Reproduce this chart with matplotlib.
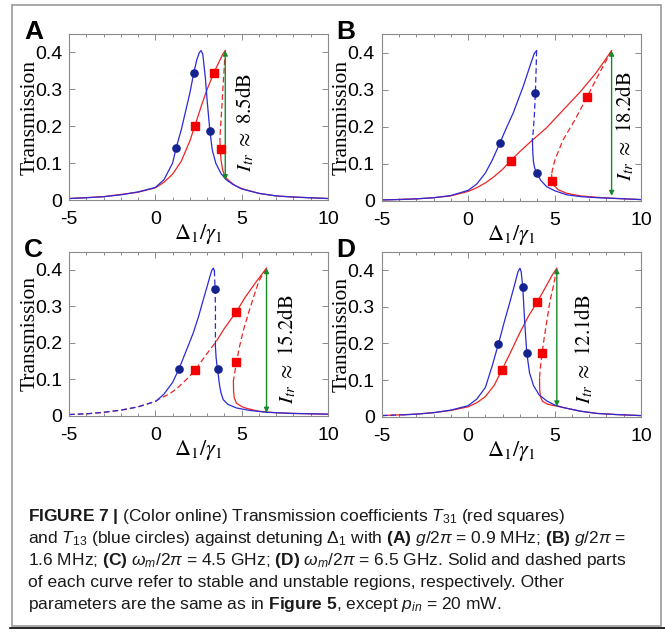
import matplotlib.pyplot as plt
from matplotlib import font_manager
from matplotlib.font_manager import FontProperties
from matplotlib.patches import Rectangle
from matplotlib.lines import Line2D
from matplotlib.ticker import MultipleLocator


def pick(fams):
    for f in fams:
        try:
            font_manager.findfont(FontProperties(family=f), fallback_to_default=False)
            return f
        except ValueError:
            pass
    return 'DejaVu Sans'


CAP_FONT = pick(['Liberation Sans Narrow', 'Liberation Sans'])
plt.rcParams['font.family'] = 'Liberation Sans'
plt.rcParams['axes.unicode_minus'] = False
plt.rcParams['mathtext.fontset'] = 'custom'
plt.rcParams['mathtext.rm'] = CAP_FONT
plt.rcParams['mathtext.it'] = CAP_FONT + ':italic'
plt.rcParams['mathtext.bf'] = CAP_FONT + ':bold'

# ---- (A) g/2pi = 0.9 MHz ----
A_BLUE = [(-5, 0.004), (-4, 0.006), (-3, 0.009), (-2, 0.014), (-1, 0.022), (0, 0.034),
          (0.5, 0.055), (1.0, 0.10), (1.21, 0.142), (1.5, 0.19), (1.8, 0.25), (2.0, 0.29),
          (2.22, 0.343), (2.4, 0.38), (2.55, 0.400), (2.65, 0.405), (2.75, 0.395),
          (2.9, 0.33), (3.0, 0.27), (3.16, 0.187), (3.3, 0.135), (3.5, 0.10), (3.8, 0.072),
          (4.1, 0.055), (4.5, 0.042), (5, 0.030), (6, 0.018), (7, 0.011), (8, 0.008),
          (9, 0.006), (10, 0.004)]
A_RED_UP = [(-5, 0.004), (-3, 0.009), (-1, 0.021), (0, 0.033), (0.5, 0.048), (1.0, 0.07),
            (1.5, 0.105), (2.0, 0.16), (2.29, 0.201), (2.7, 0.26), (3.0, 0.30), (3.39, 0.345),
            (3.7, 0.375), (3.9, 0.395), (4.05, 0.405)]
A_RED_MID = [(4.05, 0.405), (3.95, 0.33), (3.85, 0.25), (3.78, 0.20), (3.74, 0.165)]
A_RED_LOW = [(3.74, 0.165), (3.76, 0.138), (3.8, 0.11), (3.9, 0.081), (4.05, 0.062),
             (4.32, 0.05), (4.6, 0.04), (5, 0.031), (6, 0.018), (7, 0.011), (8, 0.008),
             (9, 0.006), (10, 0.004)]
A_CIRCLES = [(1.21, 0.142), (2.22, 0.343), (3.16, 0.187)]
A_SQUARES = [(2.29, 0.201), (3.39, 0.345), (3.78, 0.138)]
A_ARROW = (4.05, 0.054, 0.405)
A_LABEL = (5.19, 0.211, '8.5')

# ---- (B) g/2pi = 1.6 MHz ----
B_BLUE_UP = [(-5, 0.002), (-4, 0.003), (-3, 0.005), (-2, 0.008), (-1, 0.014), (0, 0.028),
             (0.5, 0.045), (1.0, 0.075), (1.4, 0.11), (1.84, 0.156), (2.2, 0.195),
             (2.61, 0.237), (3.19, 0.309), (3.58, 0.364), (3.83, 0.398), (3.96, 0.405)]
B_BLUE_MID = [(3.96, 0.405), (3.93, 0.35), (3.89, 0.292), (3.83, 0.23), (3.77, 0.19),
              (3.72, 0.165)]
B_BLUE_LOW = [(3.72, 0.165), (3.74, 0.13), (3.78, 0.105), (3.85, 0.088), (3.96, 0.076),
              (4.2, 0.055), (4.54, 0.038), (5.0, 0.027), (5.7, 0.016), (6.5, 0.011),
              (7.5, 0.008), (8.4, 0.0065), (10, 0.003)]
B_RED_UP = [(-5, 0.002), (-3, 0.005), (-2, 0.008), (-1, 0.013), (0, 0.025), (0.5, 0.035),
            (1.0, 0.048), (1.5, 0.065), (2.0, 0.085), (2.46, 0.108), (3.0, 0.133),
            (3.68, 0.162), (4.54, 0.197), (5.5, 0.245), (6.47, 0.293), (7.4, 0.345),
            (8.30, 0.405)]
B_RED_MID = [(8.30, 0.405), (7.6, 0.345), (6.89, 0.281), (6.2, 0.22), (5.5, 0.165),
             (5.02, 0.11), (4.88, 0.085), (4.83, 0.07)]
B_RED_LOW = [(4.83, 0.07), (4.86, 0.054), (4.95, 0.042), (5.2, 0.03), (5.7, 0.02),
             (6.5, 0.013), (7.5, 0.009), (8.3, 0.0065), (10, 0.003)]
B_CIRCLES = [(1.84, 0.156), (3.89, 0.292), (3.96, 0.076)]
B_SQUARES = [(2.46, 0.108), (6.89, 0.281), (4.87, 0.054)]
B_ARROW = (8.30, 0.013, 0.405)
B_LABEL = (9.07, 0.20, '18.2')

# ---- (C) omega_m/2pi = 4.5 GHz ----
C_BLUE_TAIL = [(-5, 0.004), (-4, 0.006), (-3, 0.010), (-2, 0.016), (-1, 0.025), (0, 0.040),
               (0.1, 0.043)]
C_BLUE_UP = [(0.1, 0.043), (0.5, 0.06), (1.0, 0.092), (1.37, 0.129), (1.8, 0.18),
             (2.2, 0.228), (2.5, 0.272), (2.78, 0.319), (3.0, 0.355), (3.16, 0.382),
             (3.28, 0.400), (3.36, 0.405), (3.42, 0.398)]
C_BLUE_MID = [(3.42, 0.398), (3.46, 0.35), (3.48, 0.3), (3.48, 0.25), (3.48, 0.19)]
C_BLUE_LOW = [(3.48, 0.19), (3.52, 0.16), (3.58, 0.135), (3.65, 0.11), (3.72, 0.084),
              (3.8, 0.064), (3.93, 0.045), (4.2, 0.032), (4.7, 0.022), (5.5, 0.015),
              (6.5, 0.010), (8, 0.007), (10, 0.005)]
C_RED_TAIL = [(-5, 0.004), (-4, 0.006), (-3, 0.010), (-2, 0.016), (-1, 0.025), (0, 0.040),
              (0.27, 0.048), (0.8, 0.06), (1.24, 0.075), (1.8, 0.10), (2.3, 0.125),
              (2.9, 0.165), (3.55, 0.206)]
C_RED_UP = [(3.55, 0.206), (4.0, 0.24), (4.70, 0.286), (5.2, 0.325), (5.8, 0.365),
            (6.44, 0.405)]
C_RED_MID = [(6.44, 0.405), (6.0, 0.37), (5.67, 0.323), (5.35, 0.275), (5.09, 0.233),
             (4.85, 0.185), (4.70, 0.145), (4.58, 0.115), (4.52, 0.095)]
C_RED_LOW = [(4.52, 0.095), (4.53, 0.07), (4.57, 0.05), (4.7, 0.035), (5.0, 0.026),
             (5.28, 0.021), (6.0, 0.013), (6.44, 0.011), (7, 0.009), (8, 0.007),
             (10, 0.005)]
C_CIRCLES = [(1.37, 0.129), (3.47, 0.348), (3.62, 0.129)]
C_SQUARES = [(2.3, 0.125), (4.70, 0.286), (4.70, 0.147)]
C_ARROW = (6.44, 0.009, 0.405)
C_LABEL = (7.62, 0.184, '15.2')

# ---- (D) omega_m/2pi = 6.5 GHz ----
D_BLUE_TAIL = [(-5, 0.003), (-4, 0.005), (-3.7, 0.005)]
D_BLUE = [(-3.7, 0.005), (-3, 0.007), (-2, 0.011), (-1, 0.018), (0, 0.030), (0.5, 0.048),
          (1.0, 0.08), (1.4, 0.14), (1.75, 0.198), (2.1, 0.26), (2.4, 0.31), (2.7, 0.362),
          (2.88, 0.395), (3.0, 0.405), (3.07, 0.395), (3.16, 0.353), (3.27, 0.26),
          (3.39, 0.175), (3.55, 0.12), (3.78, 0.085), (4.1, 0.06), (4.55, 0.043),
          (5.0, 0.032), (5.5, 0.025), (6.5, 0.015), (7.43, 0.009), (8.5, 0.006),
          (10, 0.003)]
D_RED_UP = [(-5, 0.003), (-3, 0.007), (-2, 0.011), (-1, 0.017), (0, 0.027), (0.5, 0.038),
            (1.0, 0.055), (1.5, 0.085), (1.95, 0.127), (2.5, 0.18), (3.0, 0.23),
            (3.5, 0.275), (4.01, 0.314), (4.5, 0.355), (4.85, 0.385), (5.13, 0.405)]
D_RED_MID = [(5.13, 0.405), (4.95, 0.36), (4.74, 0.317), (4.55, 0.26), (4.4, 0.215),
             (4.28, 0.174), (4.18, 0.135), (4.13, 0.105)]
D_RED_LOW = [(4.13, 0.105), (4.14, 0.075), (4.18, 0.055), (4.3, 0.042), (4.6, 0.034),
             (5.0, 0.030), (5.5, 0.025), (6.5, 0.015), (7.43, 0.009), (8.5, 0.006),
             (10, 0.003)]
D_CIRCLES = [(1.75, 0.198), (3.16, 0.353), (3.39, 0.175)]
D_SQUARES = [(1.95, 0.127), (4.01, 0.314), (4.28, 0.174)]
D_ARROW = (5.13, 0.028, 0.405)
D_LABEL = (6.66, 0.185, '12.1')

BLUE = '#2a2ad6'
NAVY = '#14238f'
RED = '#ee2424'
SQ_RED = '#f40000'
GREEN = '#168a2a'
SPINE = '#8a8a8a'
DASH = (0, (4.5, 2.5))

# panel: (letter, axes rect in px [left, top, right, bottom], red branches, blue branches, circles, squares, arrow, label)
panels = [
    ('A', (69, 34, 328, 200),
     [(A_RED_UP, False), (A_RED_MID, True), (A_RED_LOW, False)],
     [(A_BLUE, False)], A_CIRCLES, A_SQUARES, A_ARROW, A_LABEL),
    ('B', (381.7, 34, 641, 200.7),
     [(B_RED_UP, False), (B_RED_MID, True), (B_RED_LOW, False)],
     [(B_BLUE_UP, False), (B_BLUE_MID, True), (B_BLUE_LOW, False)],
     B_CIRCLES, B_SQUARES, B_ARROW, B_LABEL),
    ('C', (69, 251.7, 328, 416),
     [(C_RED_TAIL, True), (C_RED_UP, False), (C_RED_MID, True), (C_RED_LOW, False)],
     [(C_BLUE_TAIL, True), (C_BLUE_UP, False), (C_BLUE_MID, True), (C_BLUE_LOW, False)],
     C_CIRCLES, C_SQUARES, C_ARROW, C_LABEL),
    ('D', (381.7, 251.7, 641, 416.7),
     [(D_RED_UP, False), (D_RED_MID, True), (D_RED_LOW, False)],
     [(D_BLUE_TAIL, True), (D_BLUE, False)],
     D_CIRCLES, D_SQUARES, D_ARROW, D_LABEL),
]

W, H = 665, 639
fig = plt.figure(figsize=(W / 100, H / 100), dpi=100)


def branch(ax, pts, color, dashed):
    x, y = zip(*pts)
    ax.plot(x, y, color=color, lw=0.9, ls=DASH if dashed else '-', zorder=2)


for letter, (l, t, r, b), reds, blues, circ, sq, arrow, label in panels:
    ax = fig.add_axes([l / W, 1 - b / H, (r - l) / W, (b - t) / H])
    for pts, d in reds:
        branch(ax, pts, RED, d)
    for pts, d in blues:
        branch(ax, pts, BLUE, d)
    cx, cy = zip(*circ)
    ax.plot(cx, cy, 'o', color=NAVY, ms=5.2, ls='none', zorder=4)
    sx, sy = zip(*sq)
    ax.plot(sx, sy, 's', color=SQ_RED, ms=5.6, ls='none', zorder=4)
    xa, y0, y1 = arrow
    ax.annotate('', xy=(xa, y1), xytext=(xa, y0),
                arrowprops=dict(arrowstyle='<|-|>', color=GREEN, lw=1.0,
                                mutation_scale=7, shrinkA=0, shrinkB=0), zorder=3)
    lx, ly, val = label
    ax.text(lx, ly, r'$I_{tr}\ \approx\ %s\mathrm{dB}$' % val, rotation=90,
            ha='center', va='center', fontsize=15, math_fontfamily='stix')

    ax.set_xlim(-5, 10)
    ax.set_ylim(0, 0.45)
    ax.set_xticks([-5, 0, 5, 10])
    ax.set_yticks([0, 0.1, 0.2, 0.3, 0.4])
    ax.set_yticklabels(['0', '0.1', '0.2', '0.3', '0.4'])
    ax.xaxis.set_minor_locator(MultipleLocator(1))
    ax.tick_params(which='both', direction='in', top=True, right=True,
                   color=SPINE, labelsize=14, width=0.7)
    ax.tick_params(which='major', length=4)
    ax.tick_params(which='minor', length=2)
    ax.tick_params(axis='x', pad=8)
    ax.tick_params(axis='y', pad=5)
    for s in ax.spines.values():
        s.set_color(SPINE)
        s.set_linewidth(0.8)
    ax.set_ylabel('Transmission', family='Liberation Serif', fontsize=15.5)
    ax.yaxis.set_label_coords(-0.115, 0.5)
    ax.set_xlabel(r'$\Delta_1/\gamma_1$', fontsize=16, math_fontfamily='stix')
    ax.xaxis.set_label_coords(0.5, -0.135)
    fig.text((l - 45) / W, 1 - (t - 2) / H, letter, fontsize=19, fontweight='bold',
             ha='left', va='center')

# outer frame and bottom rule
fig.add_artist(Rectangle((12 / W, 1 - 626 / H), (661 - 12) / W, (626 - 5) / H,
                         transform=fig.transFigure, fill=False, ec='#9a9a9a', lw=1.2))
fig.add_artist(Line2D([10 / W, 1], [1 - 628 / H] * 2, transform=fig.transFigure,
                      color='black', lw=1.2))

caption = [
    r'$\mathbf{FIGURE\ 7\ |}$ (Color online) Transmission coefficients $T_{31}$ (red squares)',
    r'and $T_{13}$ (blue circles) against detuning $\Delta_1$ with $\mathbf{(A)}$ $g/2\pi$ = 0.9 MHz; $\mathbf{(B)}$ $g/2\pi$ =',
    r'1.6 MHz; $\mathbf{(C)}$ $\omega_m/2\pi$ = 4.5 GHz; $\mathbf{(D)}$ $\omega_m/2\pi$ = 6.5 GHz. Solid and dashed parts',
    'of each curve refer to stable and unstable regions, respectively. Other',
    r'parameters are the same as in $\mathbf{Figure\ 5}$, except $p_{in}$ = 20 mW.',
]
for i, line in enumerate(caption):
    fig.text(28 / W, 1 - (517 + 22 * i) / H, line, family=CAP_FONT, fontsize=12.5,
             ha='left', va='center', color='#1a1a1a')

fig.savefig('out.png', dpi=100)
